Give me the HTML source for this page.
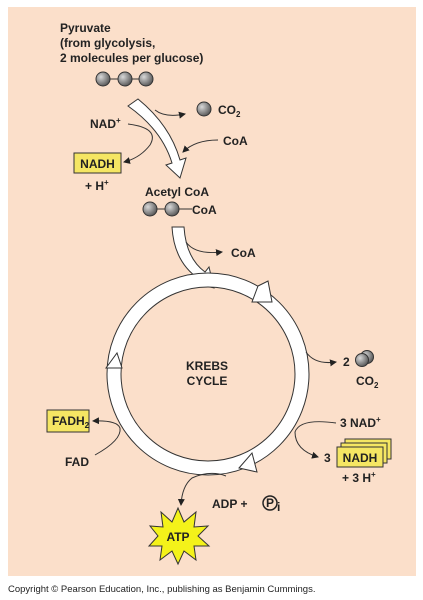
<!DOCTYPE html>
<html><head><meta charset="utf-8"><style>
body{margin:0;background:#fff;width:423px;height:600px;overflow:hidden}
svg{display:block}
text{font-family:"Liberation Sans",Arial,sans-serif;font-weight:bold;font-size:12px;fill:#222}
</style></head><body>
<svg width="423" height="600" viewBox="0 0 423 600">
<defs>
<marker id="ah" markerWidth="8" markerHeight="8" refX="6" refY="4" orient="auto" markerUnits="userSpaceOnUse"><path d="M0,0.5 L7,4 L0,7.5 Z" fill="#222"/></marker>
<radialGradient id="ball" cx="0.35" cy="0.35" r="0.7"><stop offset="0" stop-color="#d8d8d8"/><stop offset="1" stop-color="#555"/></radialGradient>
</defs>
<rect x="8" y="7" width="408" height="569" fill="#fbdfca"/>
<g>
<text x="60" y="32">Pyruvate</text><text x="60" y="47">(from glycolysis,</text><text x="60" y="62">2 molecules per glucose)</text></g>
<g stroke="#333" stroke-width="1">
<line x1="103" y1="79" x2="146" y2="79"/>
<circle cx="103" cy="79" r="7" fill="url(#ball)"/><circle cx="125" cy="79" r="7" fill="url(#ball)"/><circle cx="146" cy="79" r="7" fill="url(#ball)"/></g>
<path d="M128,106 L138,99 Q170,125 180,160 L186,158 L180,178 L166,165 L172,163 Q162,130 128,106 Z" fill="#fff" stroke="#333" stroke-width="1"/>
<path d="M155,110 Q165,118 185,114" fill="none" stroke="#333" marker-end="url(#ah)"/>
<circle cx="204" cy="109" r="7" fill="url(#ball)" stroke="#333"/>
<text x="218" y="114">CO<tspan font-size="8" dy="3">2</tspan></text>
<text x="90" y="128">NAD<tspan font-size="8" dy="-5">+</tspan></text>
<path d="M128,124 Q160,128 150,145 Q140,158 124,162" fill="none" stroke="#333" marker-end="url(#ah)"/>
<text x="223" y="145">CoA</text>
<path d="M218,140 Q195,140 183,152" fill="none" stroke="#333" marker-end="url(#ah)"/>
<g><rect x="74" y="153" width="47" height="20" fill="#f5e663" stroke="#333"/><text x="97.5" y="168" text-anchor="middle">NADH</text></g>
<text x="85" y="190">+ H<tspan font-size="8" dy="-5">+</tspan></text>
<text x="145" y="196">Acetyl CoA</text>
<g stroke="#333"><line x1="150" y1="209" x2="192" y2="209"/><circle cx="150" cy="209" r="7" fill="url(#ball)"/><circle cx="172" cy="209" r="7" fill="url(#ball)"/></g>
<text x="192" y="214">CoA</text>
<path d="M172,227 L184,227 Q186,258 205,272 L209,267 L214,288 L194,283 L199,279 Q174,262 172,227 Z" fill="#fff" stroke="#333"/>
<path d="M186,242 Q195,255 222,252" fill="none" stroke="#333" marker-end="url(#ah)"/>
<text x="231" y="257">CoA</text>
<g>
<circle cx="208" cy="374" r="94" fill="none" stroke="#333" stroke-width="15"/>
<circle cx="208" cy="374" r="94" fill="none" stroke="#fff" stroke-width="13"/>
<path d="M258,286 L268,281 L272,302 L252,302 Z" fill="#fff" stroke="#333"/>
<path d="M106,368 L122,368 L117,353 Z" fill="#fff" stroke="#333"/>
<path d="M252,453 L257,472 L239,468 Z" fill="#fff" stroke="#333"/>
</g>
<text x="207" y="370" text-anchor="middle">KREBS</text><text x="207" y="385" text-anchor="middle">CYCLE</text>
<path d="M306,352 Q315,365 336,362" fill="none" stroke="#333" marker-end="url(#ah)"/>
<text x="343" y="366">2</text>
<g stroke="#333"><circle cx="367" cy="357" r="6.5" fill="url(#ball)"/><circle cx="362" cy="360" r="6.5" fill="url(#ball)"/></g>
<text x="356" y="385">CO<tspan font-size="8" dy="3">2</tspan></text>
<text x="340" y="427">3 NAD<tspan font-size="8" dy="-5">+</tspan></text>
<path d="M336,423 Q300,418 295,432 Q295,450 318,457" fill="none" stroke="#333" marker-end="url(#ah)"/>
<text x="324" y="462">3</text>
<g>
<rect x="345" y="439" width="46" height="20" fill="#f5e663" stroke="#333"/>
<rect x="341" y="443" width="46" height="20" fill="#f5e663" stroke="#333"/>
<rect x="337" y="447" width="46" height="20" fill="#f5e663" stroke="#333"/>
<text x="360" y="462" text-anchor="middle">NADH</text></g>
<text x="342" y="482">+ 3 H<tspan font-size="8" dy="-5">+</tspan></text>
<g><rect x="47" y="410" width="42" height="22" fill="#f5e663" stroke="#333"/><text x="52" y="425">FADH<tspan font-size="8" dy="3">2</tspan></text></g>
<path d="M95,455 Q122,440 120,428 Q117,420 93,421" fill="none" stroke="#333" marker-end="url(#ah)"/>
<text x="65" y="466">FAD</text>
<path d="M226,476 Q210,470 192,478 Q182,486 181,505" fill="none" stroke="#333" marker-end="url(#ah)"/>
<text x="212" y="508">ADP +</text>
<g><circle cx="270" cy="503" r="7" fill="none" stroke="#222" stroke-width="1.5"/><text x="270" y="507" text-anchor="middle" font-size="10">P</text><text x="277" y="511" font-size="7">i</text></g>
<g>
<polygon points="178,508 184,522 196,512 194,527 208,526 198,536 209,546 194,546 196,560 184,551 178,564 172,551 160,560 162,546 149,546 158,536 150,526 163,527 161,512 172,522" fill="#f4f21a" stroke="#333"/>
<text x="178" y="541" text-anchor="middle">ATP</text></g>
<text x="8" y="592" style="font-weight:normal;font-size:9.5px">Copyright © Pearson Education, Inc., publishing as Benjamin Cummings.</text>
</svg>
</body></html>
